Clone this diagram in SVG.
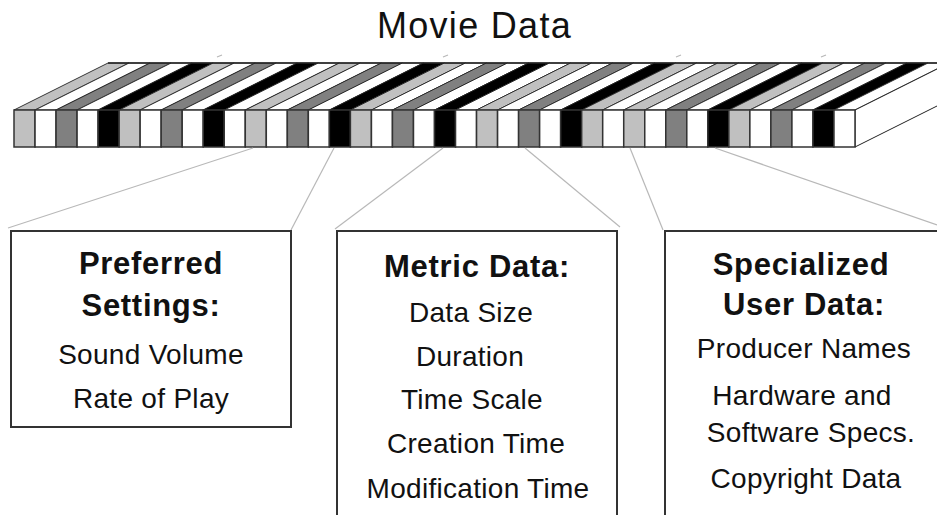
<svg xmlns="http://www.w3.org/2000/svg" xmlns:xlink="http://www.w3.org/1999/xlink" width="937" height="515" viewBox="0 0 937 515">
<style>
.l{fill:#c0c0c0}
.d{fill:#808080}
.b{fill:#000000}
.w{fill:#ffffff}
.seg{stroke:#333333;stroke-width:1.5}
.stripe{stroke:#222222;stroke-width:0.9}
.conn{stroke:#b8b8b8;stroke-width:1.2;fill:none}
.box{fill:#ffffff;stroke:#333333;stroke-width:2}
text{font-family:"Liberation Sans",Arial,sans-serif;fill:#111111;text-anchor:middle}
.title{font-size:36px;letter-spacing:1.3px}
.h{font-size:31px;font-weight:bold;letter-spacing:0.7px}
.t{font-size:28px;letter-spacing:0.3px}
</style>
<defs>
<path id="top" d="M0,110 L21.025,110 L115.025,63 L94,63 Z"/>
</defs>
<rect width="937" height="515" fill="#ffffff"/>
<g id="title"><text class="title" x="474.5" y="38">Movie Data</text></g>
<g id="bar">
<g class="stripe">
<use xlink:href="#top" x="14" class="l"/>
<use xlink:href="#top" x="35.03" class="w"/>
<use xlink:href="#top" x="56.05" class="d"/>
<use xlink:href="#top" x="77.08" class="w"/>
<use xlink:href="#top" x="98.1" class="b"/>
<use xlink:href="#top" x="119.13" class="l"/>
<use xlink:href="#top" x="140.15" class="w"/>
<use xlink:href="#top" x="161.18" class="d"/>
<use xlink:href="#top" x="182.2" class="w"/>
<use xlink:href="#top" x="203.23" class="b"/>
<use xlink:href="#top" x="224.25" class="w"/>
<use xlink:href="#top" x="245.28" class="l"/>
<use xlink:href="#top" x="266.3" class="w"/>
<use xlink:href="#top" x="287.33" class="d"/>
<use xlink:href="#top" x="308.35" class="w"/>
<use xlink:href="#top" x="329.38" class="b"/>
<use xlink:href="#top" x="350.4" class="l"/>
<use xlink:href="#top" x="371.43" class="w"/>
<use xlink:href="#top" x="392.45" class="d"/>
<use xlink:href="#top" x="413.48" class="w"/>
<use xlink:href="#top" x="434.5" class="b"/>
<use xlink:href="#top" x="455.53" class="w"/>
<use xlink:href="#top" x="476.55" class="l"/>
<use xlink:href="#top" x="497.58" class="w"/>
<use xlink:href="#top" x="518.6" class="d"/>
<use xlink:href="#top" x="539.63" class="w"/>
<use xlink:href="#top" x="560.65" class="b"/>
<use xlink:href="#top" x="581.68" class="l"/>
<use xlink:href="#top" x="602.7" class="w"/>
<use xlink:href="#top" x="623.73" class="l"/>
<use xlink:href="#top" x="644.75" class="w"/>
<use xlink:href="#top" x="665.78" class="d"/>
<use xlink:href="#top" x="686.8" class="w"/>
<use xlink:href="#top" x="707.83" class="b"/>
<use xlink:href="#top" x="728.85" class="l"/>
<use xlink:href="#top" x="749.88" class="w"/>
<use xlink:href="#top" x="770.9" class="d"/>
<use xlink:href="#top" x="791.93" class="w"/>
<use xlink:href="#top" x="812.95" class="b"/>
<use xlink:href="#top" x="833.98" class="w"/>
</g>
<line x1="108" y1="63" x2="937" y2="63" stroke="#222222" stroke-width="1.5"/>
<polygon points="855,110 949,63 949,100 855,147" fill="#ffffff" stroke="#222222" stroke-width="1"/>
<g class="seg">
<rect x="14" y="110" width="21.025" height="37" class="l"/>
<rect x="35.03" y="110" width="21.025" height="37" class="w"/>
<rect x="56.05" y="110" width="21.025" height="37" class="d"/>
<rect x="77.08" y="110" width="21.025" height="37" class="w"/>
<rect x="98.1" y="110" width="21.025" height="37" class="b"/>
<rect x="119.13" y="110" width="21.025" height="37" class="l"/>
<rect x="140.15" y="110" width="21.025" height="37" class="w"/>
<rect x="161.18" y="110" width="21.025" height="37" class="d"/>
<rect x="182.2" y="110" width="21.025" height="37" class="w"/>
<rect x="203.23" y="110" width="21.025" height="37" class="b"/>
<rect x="224.25" y="110" width="21.025" height="37" class="w"/>
<rect x="245.28" y="110" width="21.025" height="37" class="l"/>
<rect x="266.3" y="110" width="21.025" height="37" class="w"/>
<rect x="287.33" y="110" width="21.025" height="37" class="d"/>
<rect x="308.35" y="110" width="21.025" height="37" class="w"/>
<rect x="329.38" y="110" width="21.025" height="37" class="b"/>
<rect x="350.4" y="110" width="21.025" height="37" class="l"/>
<rect x="371.43" y="110" width="21.025" height="37" class="w"/>
<rect x="392.45" y="110" width="21.025" height="37" class="d"/>
<rect x="413.48" y="110" width="21.025" height="37" class="w"/>
<rect x="434.5" y="110" width="21.025" height="37" class="b"/>
<rect x="455.53" y="110" width="21.025" height="37" class="w"/>
<rect x="476.55" y="110" width="21.025" height="37" class="l"/>
<rect x="497.58" y="110" width="21.025" height="37" class="w"/>
<rect x="518.6" y="110" width="21.025" height="37" class="d"/>
<rect x="539.63" y="110" width="21.025" height="37" class="w"/>
<rect x="560.65" y="110" width="21.025" height="37" class="b"/>
<rect x="581.68" y="110" width="21.025" height="37" class="l"/>
<rect x="602.7" y="110" width="21.025" height="37" class="w"/>
<rect x="623.73" y="110" width="21.025" height="37" class="l"/>
<rect x="644.75" y="110" width="21.025" height="37" class="w"/>
<rect x="665.78" y="110" width="21.025" height="37" class="d"/>
<rect x="686.8" y="110" width="21.025" height="37" class="w"/>
<rect x="707.83" y="110" width="21.025" height="37" class="b"/>
<rect x="728.85" y="110" width="21.025" height="37" class="l"/>
<rect x="749.88" y="110" width="21.025" height="37" class="w"/>
<rect x="770.9" y="110" width="21.025" height="37" class="d"/>
<rect x="791.93" y="110" width="21.025" height="37" class="w"/>
<rect x="812.95" y="110" width="21.025" height="37" class="b"/>
<rect x="833.98" y="110" width="21.025" height="37" class="w"/>
</g>
</g>
<g id="connectors">
<line class="conn" x1="217" y1="57" x2="222" y2="55"/>
<line class="conn" x1="443" y1="57" x2="448" y2="55"/>
<line class="conn" x1="676" y1="57" x2="681" y2="55"/>
<line class="conn" x1="821" y1="57" x2="826" y2="55"/>
<line class="conn" x1="253" y1="148" x2="8" y2="228"/>
<line class="conn" x1="334" y1="148" x2="291" y2="230"/>
<line class="conn" x1="443" y1="148" x2="335" y2="229"/>
<line class="conn" x1="525" y1="148" x2="620" y2="227"/>
<line class="conn" x1="630" y1="148" x2="663" y2="230"/>
<line class="conn" x1="715" y1="148" x2="937" y2="225"/>
</g>
<g id="box-preferred">
<rect class="box" x="11" y="231" width="280" height="196"/>
<text class="h" x="151" y="274">Preferred</text>
<text class="h" x="151" y="316">Settings:</text>
<text class="t" x="151" y="364">Sound Volume</text>
<text class="t" x="151" y="408">Rate of Play</text>
</g>
<g id="box-metric">
<rect class="box" x="337" y="231" width="280" height="300"/>
<text class="h" x="477" y="277">Metric Data:</text>
<text class="t" x="471" y="322">Data Size</text>
<text class="t" x="470" y="366">Duration</text>
<text class="t" x="472" y="409">Time Scale</text>
<text class="t" x="476" y="453">Creation Time</text>
<text class="t" x="478" y="498">Modification Time</text>
</g>
<g id="box-user">
<rect class="box" x="665" y="231" width="300" height="300"/>
<text class="h" x="801" y="275">Specialized</text>
<text class="h" x="804" y="315">User Data:</text>
<text class="t" x="804" y="358">Producer Names</text>
<text class="t" x="802" y="405">Hardware and</text>
<text class="t" x="811" y="442">Software Specs.</text>
<text class="t" x="806" y="488">Copyright Data</text>
</g>
</svg>
